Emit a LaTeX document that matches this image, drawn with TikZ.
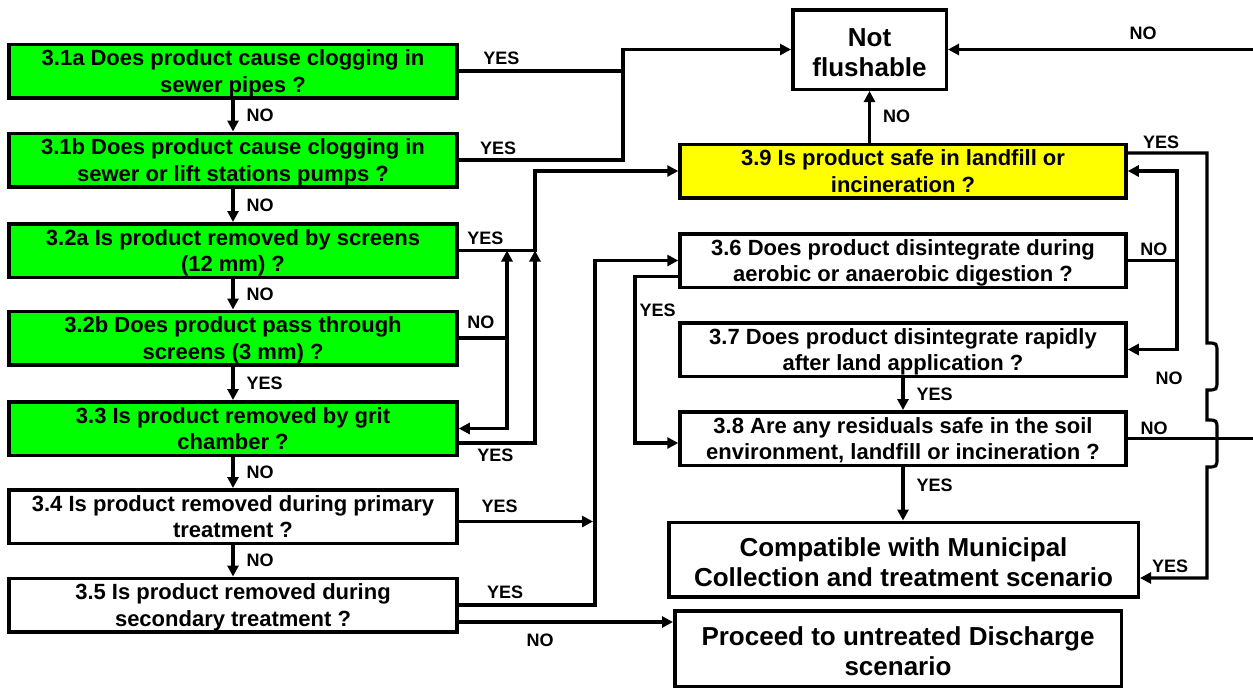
\documentclass[tikz,border=0pt]{standalone}
\usepackage{fontspec}
\setmainfont{Liberation Sans}
\usetikzlibrary{arrows.meta}
\definecolor{sewergreen}{RGB}{0,255,0}
\definecolor{landyellow}{RGB}{255,255,0}
\newcommand{\qwid}{448pt}
\newcommand{\qhei}{53.5pt}
\newcommand{\qx}{233}
\newcommand{\rx}{903}

\begin{document}
\begin{tikzpicture}[x=1pt, y=-1pt, >={Triangle[length=11pt, width=11pt]},
    qbox/.style={draw, line width=3.5pt, minimum width=\qwid, minimum height=\qhei, inner sep=0pt, text depth=0pt, align=center, font=\fontsize{22}{26.5}\selectfont\bfseries},
    endbox/.style={draw, line width=3.5pt, inner sep=0pt, text height=54pt, text depth=0pt, align=center, font=\fontsize{26}{30}\selectfont\bfseries},
    link/.style={line width=3.2pt},
    lbl/.style={inner sep=0pt, font=\fontsize{18}{20}\selectfont\bfseries}]
    \useasboundingbox (0,0) rectangle (1253,689);

    % left column
    \node[qbox, fill=sewergreen] (q31a) at (\qx, 71) {3.1a Does product cause clogging in\\sewer pipes ?};
    \node[qbox, fill=sewergreen] (q31b) at (\qx, 160) {3.1b Does product cause clogging in\\sewer or lift stations pumps ?};
    \node[qbox, fill=sewergreen] (q32a) at (\qx, 250.5) {3.2a Is product removed by screens\\(12 mm) ?};
    \node[qbox, fill=sewergreen] (q32b) at (\qx, 338) {3.2b Does product pass through\\screens (3 mm) ?};
    \node[qbox, fill=sewergreen] (q33) at (\qx, 428.5) {3.3 Is product removed by grit\\chamber ?};
    \node[qbox] (q34) at (\qx, 516.5) {3.4 Is product removed during primary\\treatment ?};
    \node[qbox] (q35) at (\qx, 605) {3.5 Is product removed during\\secondary treatment ?};

    % right column
    \node[qbox, fill=landyellow, minimum width=446pt] (q39) at (\rx, 171) {3.9 Is product safe in landfill or\\incineration ?};
    \node[qbox, minimum width=446pt] (q36) at (\rx, 260.5) {3.6 Does product disintegrate during\\aerobic or anaerobic digestion ?};
    \node[qbox, minimum width=446pt] (q37) at (\rx, 349.5) {3.7 Does product disintegrate rapidly\\after land application ?};
    \node[qbox, minimum width=446pt] (q38) at (\rx, 438.5) {3.8 Are any residuals safe in the soil\\environment, landfill or incineration ?};

    % outcomes
    \node[endbox, minimum width=153.5pt, minimum height=79.5pt] (nf) at (869.5, 49.5) {Not\\flushable};
    \node[endbox, minimum width=469.5pt, minimum height=74.5pt] (cmp) at (903.5, 559.5) {Compatible with Municipal\\Collection and treatment scenario};
    \node[endbox, minimum width=446.5pt, minimum height=75.5pt] (prc) at (898, 648.5) {Proceed to untreated Discharge\\scenario};

    % turning points
    \coordinate (j1) at (623, 50);
    \coordinate (j2) at (535, 171);
    \coordinate (j3) at (507, 427);
    \coordinate (j4) at (595, 261);
    \coordinate (j5) at (635, 443);
    \coordinate (j6) at (1177, 260.5);
    \coordinate (j7) at (1207, 153);
    \coordinate (eNF) at (1253, 49.5);
    \coordinate (e38) at (1253, 438.5);
    \coordinate (o34) at ([yshift=-5pt]q34.east);
    \coordinate (o35) at ([yshift=-17pt]q35.east);
    \coordinate (o33) at ([yshift=-14.5pt]q33.east);
    \coordinate (o36) at ([yshift=-16pt]q36.west);
    \coordinate (o39) at ([yshift=18pt]q39.east);
    \coordinate (i39) at (1207, 578);

    % down the left column
    \draw[link,->] (q31a) -- (q31b) node[lbl, midway, right=12pt] (n1) {NO};
    \draw[link,->] (q31b) -- (q32a) node[lbl, midway, right=12pt] (n2) {NO};
    \draw[link,->] (q32a) -- (q32b) node[lbl, midway, right=12pt] (n3) {NO};
    \draw[link,->] (q32b) -- (q33) node[lbl, midway, right=12pt] (y4) {YES};
    \draw[link,->] (q33) -- (q34) node[lbl, midway, right=12pt] (n5) {NO};
    \draw[link,->] (q34) -- (q35) node[lbl, midway, right=12pt] (n6) {NO};

    % clogging -> not flushable
    \draw[link] (q31a.east) -- (q31a.east -| j1) node[lbl, pos=0.26, above=4.5pt] (y31a) {YES};
    \draw[link,->] (q31b.east) -- (q31b.east -| j1) node[lbl, pos=0.24, above=3.5pt] (y31b) {YES} |- (nf.west);
    \draw[link,->] (eNF) -- (nf.east) node[lbl, pos=0.36, above=8.5pt] (nR) {NO};
    \draw[link,->] (nf.south |- q39.north) -- (nf.south) node[lbl, midway, right=12pt] (n39) {NO};

    % screens and grit -> 3.9
    \draw[link,->] (q32a.east) -- (q32a.east -| j2) node[lbl, pos=0.35, above=4pt] (y32a) {YES} |- (q39.west);
    \draw[link,->] (o33) -| (j2 |- q32a.east) node[lbl, pos=0.24, below=4.5pt] (y33) {YES};
    \draw[link,->] (q32b.east) -- (q32b.east -| j3) node[lbl, pos=0.46, above=8pt] (n32b) {NO} |- (q33.east);
    \draw[link,->] (q32b.east -| j3) -- (j3 |- q32a.east);

    % treatment -> 3.6, untreated
    \draw[link,->, shorten >=2pt] (o34) -- (o34 -| j4) node[lbl, pos=0.3, above=7pt] (y34) {YES};
    \draw[link,->] (q35.east) -| (j4 |- q36.west) node[lbl, pos=0.17, above=4.5pt] (y35) {YES} -- (q36.west);
    \draw[link,->] (o35) -- (o35 -| prc.west) node[lbl, pos=0.38, below=10.5pt] (n35) {NO};

    % digestion and land
    \draw[link,->] (o36) -| (j5) node[lbl, pos=0.6, right=3pt] (y36) {YES} -- (j5 -| q38.west);
    \draw[link] (q36.east) -- (j6) node[lbl, pos=0.53, above=3pt] (n36) {NO};
    \draw[link,->] (j6) |- (q39.east);
    \draw[link,->] (j6) |- (q37.east);
    \draw[link,->] (q37) -- (q38) node[lbl, midway, right=12pt] (y37) {YES};
    \draw[link,->] (q38.south) -- (q38.south |- cmp.north) node[lbl, pos=0.35, right=12pt] (y38) {YES};
    \draw[link] (q38.east) -- (e38) node[lbl, pos=0.21, above=2pt] (n38) {NO};

    % 3.9 safe -> compatible, with brace
    \draw[link,->] (o39) -- (o39 -| j7) node[lbl, pos=0.42, above=3pt] (y39) {YES}
        -- (1207,343) .. controls (1217,343) .. (1217,353) -- (1217,380) .. controls (1217,390) .. (1207,390)
        -- (1207,420) .. controls (1217,420) .. (1217,430) -- (1217,457) .. controls (1217,467) .. (1207,467)
        -- (i39) -- (i39 -| cmp.east) node[lbl, pos=0.55, above=4pt] (y39b) {YES};
    \node[lbl] (nb) at (1169, 378) {NO};
\end{tikzpicture}
\end{document}
